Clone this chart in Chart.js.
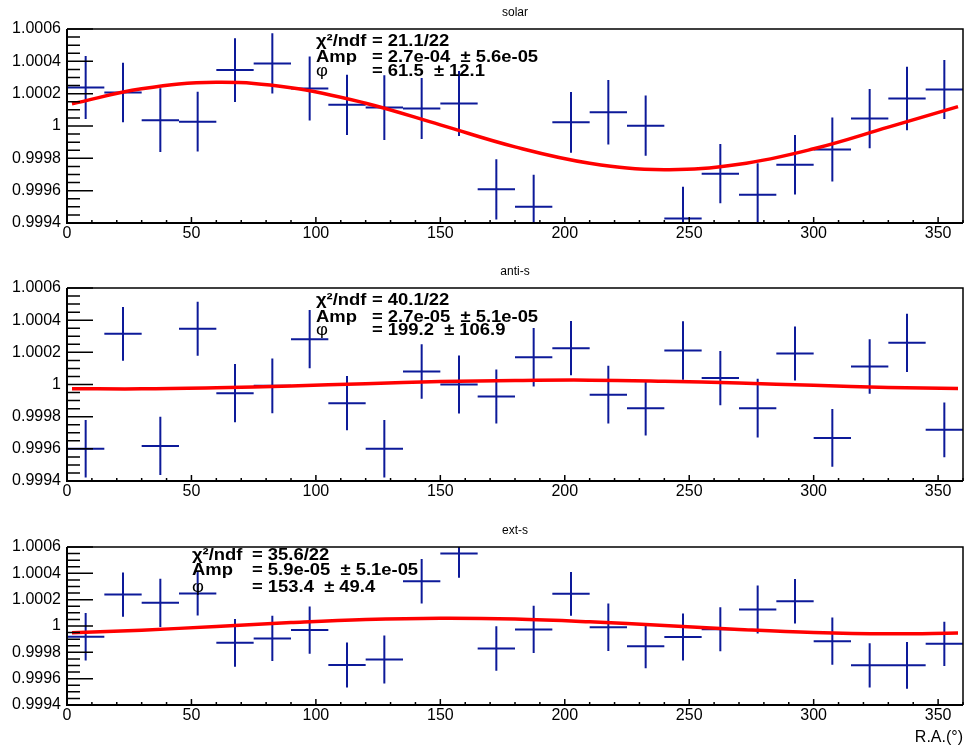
<!DOCTYPE html>
<html>
<head>
<meta charset="utf-8">
<script src="https://cdn.jsdelivr.net/npm/chart.js@4.4.1/dist/chart.umd.min.js"></script>
<style>
  html, body { margin: 0; padding: 0; background: #fff; }
  #wrap { position: relative; width: 964px; height: 747px; }
  .pad { position: absolute; left: 0; width: 964px; height: 249px; }
  .pad canvas { display: block; }
</style>
</head>
<body>
<div id="wrap">
  <div class="pad" style="top:0px"><canvas id="solar" width="964" height="249"></canvas></div>
  <div class="pad" style="top:249px"><canvas id="antis" width="964" height="249"></canvas></div>
  <div class="pad" style="top:498px"><canvas id="exts" width="964" height="249"></canvas></div>
</div>
<script>
// R.A. bins (15 deg wide), centres
const raBins = [7.5, 22.5, 37.5, 52.5, 67.5, 82.5, 97.5, 112.5, 127.5, 142.5, 157.5, 172.5,
                187.5, 202.5, 217.5, 232.5, 247.5, 262.5, 277.5, 292.5, 307.5, 322.5, 337.5, 352.5];
const binHalf = 7.5;

// relative intensity per bin
const solarVal = [1.000238, 1.000207, 1.000036, 1.000027, 1.000346, 1.000387, 1.000232, 1.000131,
                  1.000114, 1.000108, 1.000139, 0.999608, 0.999500, 1.000023, 1.000085, 1.000002,
                  0.999428, 0.999705, 0.999575, 0.999761, 0.999854, 1.000046, 1.000170, 1.000226];
const solarErr = [0.000195, 0.000184, 0.000197, 0.000185, 0.000197, 0.000186, 0.000198, 0.000186,
                  0.000200, 0.000189, 0.000201, 0.000186, 0.000198, 0.000188, 0.000200, 0.000186,
                  0.000196, 0.000183, 0.000195, 0.000184, 0.000198, 0.000183, 0.000197, 0.000183];

const antiVal = [0.999601, 1.000315, 0.999618, 1.000347, 0.999946, 0.999992, 1.000282, 0.999884,
                 0.999601, 1.000081, 1.000000, 0.999925, 1.000170, 1.000226, 0.999937, 0.999853,
                 1.000211, 1.000040, 0.999853, 1.000193, 0.999668, 1.000112, 1.000259, 0.999718];
const antiErr = [0.000179, 0.000167, 0.000181, 0.000168, 0.000181, 0.000170, 0.000181, 0.000169,
                 0.000179, 0.000170, 0.000181, 0.000168, 0.000182, 0.000169, 0.000179, 0.000170,
                 0.000182, 0.000169, 0.000182, 0.000168, 0.000179, 0.000170, 0.000181, 0.000170];

const extVal = [0.999918, 1.000239, 1.000176, 1.000247, 0.999872, 0.999906, 0.999969, 0.999703,
                0.999746, 1.000340, 1.000550, 0.999830, 0.999974, 1.000244, 0.999991, 0.999847,
                0.999916, 0.999976, 1.000125, 1.000188, 0.999885, 0.999701, 0.999701, 0.999865];
const extErr = [0.000180, 0.000168, 0.000183, 0.000168, 0.000182, 0.000171, 0.000180, 0.000171,
                0.000182, 0.000169, 0.000184, 0.000169, 0.000180, 0.000167, 0.000180, 0.000168,
                0.000178, 0.000167, 0.000182, 0.000169, 0.000180, 0.000168, 0.000178, 0.000168];

// fitted curves
const fitRA = [2, 30, 60, 90, 120, 150, 180, 210, 240, 270, 300, 330, 358];
const solarFit = [1.000137, 1.000230, 1.000270, 1.000237, 1.000141, 1.000007, 0.999871,
                  0.999770, 0.999730, 0.999763, 0.999859, 0.999993, 1.000120];
const antiFit = [0.999974, 0.999973, 0.999980, 0.999991, 1.000005, 1.000018, 1.000025,
                 1.000027, 1.000020, 1.000009, 0.999995, 0.999982, 0.999975];
const extFit = [0.999948, 0.999968, 0.999997, 1.000026, 1.000049, 1.000059, 1.000053,
                1.000032, 1.000003, 0.999974, 0.999951, 0.999941, 0.999946];

// fit stats box text
const solarStat = [['χ²/ndf', '= 21.1/22'], ['Amp', '= 2.7e-04  ± 5.6e-05'], ['φ', '= 61.5  ± 12.1']];
const antiStat = [['χ²/ndf', '= 40.1/22'], ['Amp', '= 2.7e-05  ± 5.1e-05'], ['φ', '= 199.2  ± 106.9']];
const extStat = [['χ²/ndf', '= 35.6/22'], ['Amp', '= 5.9e-05  ± 5.1e-05'], ['φ', '= 153.4  ± 49.4']];

const FONT = "'Liberation Sans', Arial, Helvetica, sans-serif";
Chart.defaults.font.family = FONT;
Chart.defaults.color = '#000';

const Y_MIN = 0.9994, Y_MAX = 1.0006;

function crossPoints(vals, errs) {
  const pts = [];
  raBins.forEach((c, i) => {
    pts.push({x: c - binHalf, y: vals[i]}, {x: c + binHalf, y: vals[i]}, {x: c, y: null});
    pts.push({x: c, y: vals[i] - errs[i]}, {x: c, y: vals[i] + errs[i]}, {x: c, y: null});
  });
  return pts;
}

// ROOT-like frame with inner ticks + stats text
const rootFrame = {
  id: 'rootFrame',
  afterDraw(chart, args, opts) {
    const {ctx, chartArea: a} = chart;
    const x = chart.scales.x, y = chart.scales.y;
    ctx.save();
    ctx.strokeStyle = '#000';

    ctx.lineWidth = 1.5;
    ctx.beginPath();
    for (let k = 0; k <= 24; k++) {
      const py = y.getPixelForValue(Y_MIN + k * 0.00005);
      const len = k % 4 === 0 ? 26 : 13;
      ctx.moveTo(a.left, py);
      ctx.lineTo(a.left + len, py);
    }
    for (let k = 0; k <= 36; k++) {
      const px = x.getPixelForValue(k * 10);
      const len = k % 5 === 0 ? 6 : 3;
      ctx.moveTo(px, a.bottom);
      ctx.lineTo(px, a.bottom - len);
    }
    ctx.stroke();

    ctx.lineWidth = 1.5;
    ctx.beginPath();
    ctx.moveTo(a.left, a.top);
    ctx.lineTo(a.right, a.top);
    ctx.lineTo(a.right, a.bottom);
    ctx.stroke();
    ctx.lineWidth = 2;
    ctx.beginPath();
    ctx.moveTo(a.left, a.top);
    ctx.lineTo(a.left, a.bottom);
    ctx.lineTo(a.right, a.bottom);
    ctx.stroke();

    ctx.fillStyle = '#000';
    ctx.textBaseline = 'alphabetic';
    opts.lines.forEach((ln, i) => {
      [[ln[0], opts.col0], [ln[1], opts.col1]].forEach(([txt, cx]) => {
        ctx.save();
        ctx.font = (txt === 'φ' ? '' : 'bold ') + '16px ' + FONT;
        ctx.translate(cx, opts.base[i]);
        ctx.scale(1.15, 1);
        ctx.fillText(txt, 0, 0);
        ctx.restore();
      });
    });
    ctx.restore();
  }
};

function makePanel(id, title, vals, errs, fit, stat, lay) {
  new Chart(document.getElementById(id), {
    type: 'line',
    data: {
      datasets: [
        {
          data: fitRA.map((r, i) => ({x: r, y: fit[i]})),
          borderColor: '#ff0000',
          borderWidth: 3.5,
          pointRadius: 0,
          tension: 0.4,
          clip: 0
        },
        {
          data: crossPoints(vals, errs),
          borderColor: '#0d1a99',
          borderWidth: 2,
          pointRadius: 0,
          tension: 0,
          spanGaps: false,
          clip: 0
        }
      ]
    },
    options: {
      responsive: false,
      animation: false,
      events: [],
      layout: {padding: {left: 0, right: 1, top: 0, bottom: 0}},
      plugins: {
        legend: {display: false},
        tooltip: {enabled: false},
        title: {
          display: true,
          text: title,
          fullSize: false,
          color: '#000',
          font: {size: 12, weight: 'normal'},
          padding: {top: lay.titleTop, bottom: 8.8}
        },
        rootFrame: {lines: stat, col0: lay.col0, col1: lay.col1, base: lay.base}
      },
      scales: {
        x: {
          type: 'linear',
          min: 0,
          max: 360,
          grid: {display: false, drawTicks: false},
          border: {display: false},
          ticks: {stepSize: 50, includeBounds: false, padding: 1, maxRotation: 0, font: {size: 16}},
          title: {
            display: !!lay.xTitle,
            text: lay.xTitle || '',
            align: 'end',
            font: {size: 16},
            padding: {top: 0, bottom: 0}
          },
          afterFit: s => { s.height = lay.xH; }
        },
        y: {
          type: 'linear',
          min: Y_MIN,
          max: Y_MAX,
          grid: {display: false, drawTicks: false},
          border: {display: false},
          ticks: {
            stepSize: 0.0002,
            padding: 6,
            font: {size: 16},
            callback: v => String(parseFloat(v.toFixed(4)))
          },
          afterFit: s => { s.width = 67; }
        }
      }
    },
    plugins: [rootFrame]
  });
}

makePanel('solar', 'solar', solarVal, solarErr, solarFit, solarStat,
  {titleTop: 5.8, xH: 26, col0: 316, col1: 372, base: [45.7, 62.3, 75.7]});
makePanel('antis', 'anti-s', antiVal, antiErr, antiFit, antiStat,
  {titleTop: 15.8, xH: 17, col0: 316, col1: 372, base: [55.5, 72.5, 86]});
makePanel('exts', 'ext-s', extVal, extErr, extFit, extStat,
  {titleTop: 25.8, xH: 42, col0: 192, col1: 252, base: [61.5, 76.5, 94], xTitle: 'R.A.(°)'});
</script>
</body>
</html>
